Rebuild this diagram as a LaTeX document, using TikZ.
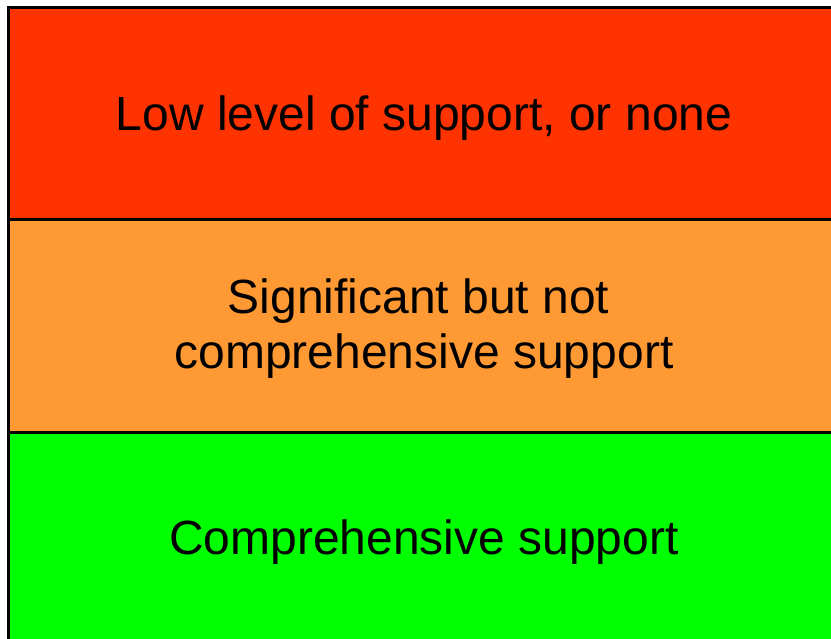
\documentclass[tikz,border=0pt]{standalone}
\usepackage{fontspec}
\setmainfont{Liberation Sans}
\usepackage{xcolor}
\usepackage{tikz}
\definecolor{lowred}{HTML}{FF3300}
\definecolor{midorange}{HTML}{FF9933}
\definecolor{fullgreen}{HTML}{00FF00}
\begin{document}
\begin{tikzpicture}[x=1pt, y=-1pt,
    band/.style={draw=black, line width=3pt},
    bandtext/.style={align=center, font=\fontsize{48}{55}\selectfont, text=black}]
    \useasboundingbox (0,0) rectangle (831,639);

    \draw[band, fill=lowred] (8.5,8) rectangle (845,220);
    \draw[band, fill=midorange] (8.5,220) rectangle (845,432);
    \draw[band, fill=fullgreen] (8.5,432) rectangle (845,660);

    \node[bandtext] (low) at (424,118) {Low level of support, or none};
    \node[bandtext] (mid) at (424,329) {Significant but not\hspace*{11pt}\\comprehensive support};
    \node[bandtext] (full) at (424,542) {Comprehensive support};
\end{tikzpicture}
\end{document}
